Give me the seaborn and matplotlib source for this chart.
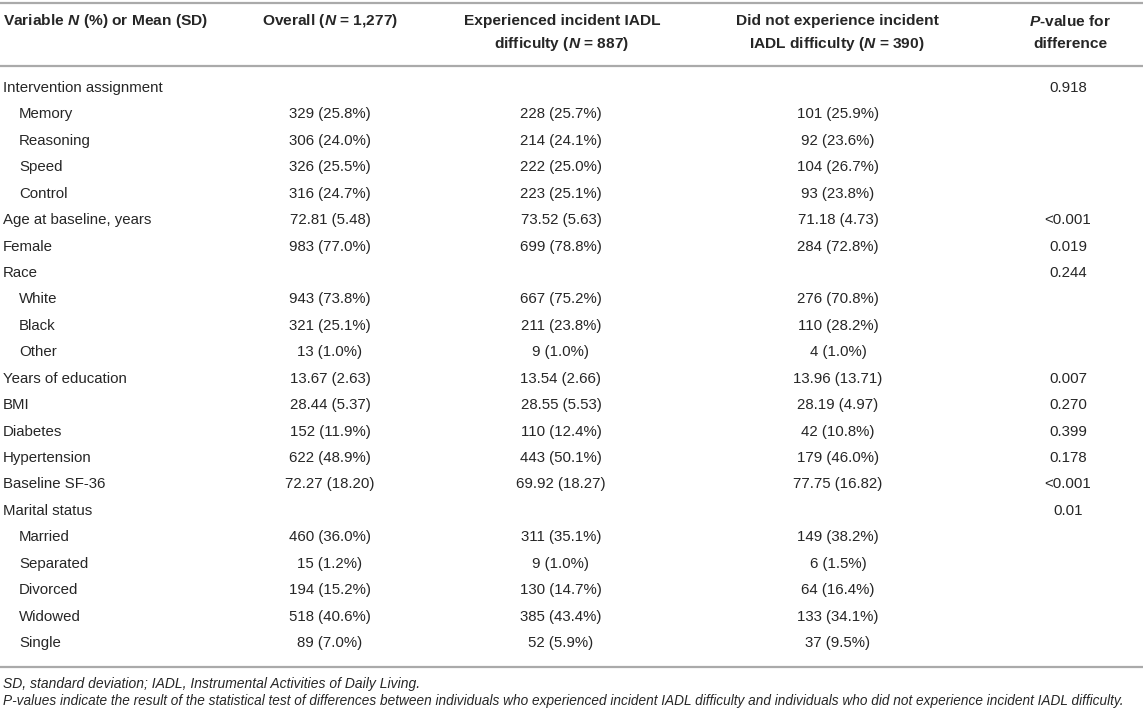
import seaborn as sns
import matplotlib.pyplot as plt

# Table contents
col_headers = [
    ["Variable $N$ (%) or Mean (SD)"],
    ["Overall ($N$ = 1,277)"],
    ["Experienced incident IADL", "difficulty ($N$ = 887)"],
    ["Did not experience incident", "IADL difficulty ($N$ = 390)"],
    ["$P$-value for", "difference"],
]

variables = [
    "Intervention assignment", "Memory", "Reasoning", "Speed", "Control",
    "Age at baseline, years", "Female", "Race", "White", "Black", "Other",
    "Years of education", "BMI", "Diabetes", "Hypertension", "Baseline SF-36",
    "Marital status", "Married", "Separated", "Divorced", "Widowed", "Single",
]
is_sub = [False, True, True, True, True,
          False, False, False, True, True, True,
          False, False, False, False, False,
          False, True, True, True, True, True]

overall = ["", "329 (25.8%)", "306 (24.0%)", "326 (25.5%)", "316 (24.7%)",
           "72.81 (5.48)", "983 (77.0%)", "", "943 (73.8%)", "321 (25.1%)", "13 (1.0%)",
           "13.67 (2.63)", "28.44 (5.37)", "152 (11.9%)", "622 (48.9%)", "72.27 (18.20)",
           "", "460 (36.0%)", "15 (1.2%)", "194 (15.2%)", "518 (40.6%)", "89 (7.0%)"]
experienced = ["", "228 (25.7%)", "214 (24.1%)", "222 (25.0%)", "223 (25.1%)",
               "73.52 (5.63)", "699 (78.8%)", "", "667 (75.2%)", "211 (23.8%)", "9 (1.0%)",
               "13.54 (2.66)", "28.55 (5.53)", "110 (12.4%)", "443 (50.1%)", "69.92 (18.27)",
               "", "311 (35.1%)", "9 (1.0%)", "130 (14.7%)", "385 (43.4%)", "52 (5.9%)"]
not_experienced = ["", "101 (25.9%)", "92 (23.6%)", "104 (26.7%)", "93 (23.8%)",
                   "71.18 (4.73)", "284 (72.8%)", "", "276 (70.8%)", "110 (28.2%)", "4 (1.0%)",
                   "13.96 (13.71)", "28.19 (4.97)", "42 (10.8%)", "179 (46.0%)", "77.75 (16.82)",
                   "", "149 (38.2%)", "6 (1.5%)", "64 (16.4%)", "133 (34.1%)", "37 (9.5%)"]
p_values = ["0.918", "", "", "", "",
            "<0.001", "0.019", "0.244", "", "", "",
            "0.007", "0.270", "0.399", "0.178", "<0.001",
            "0.01", "", "", "", "", ""]

footnotes = [
    "SD, standard deviation; IADL, Instrumental Activities of Daily Living.",
    "P-values indicate the result of the statistical test of differences between individuals "
    "who experienced incident IADL difficulty and individuals who did not experience incident IADL difficulty.",
]

sns.set_theme(style="white")
plt.rcParams["font.family"] = ["Liberation Sans", "DejaVu Sans"]
plt.rcParams["mathtext.fontset"] = "custom"
plt.rcParams["mathtext.it"] = "Liberation Sans:italic:bold"
plt.rcParams["mathtext.rm"] = "Liberation Sans:bold"

W, H = 1143, 711
fig = plt.figure(figsize=(W / 100, H / 100), dpi=100)
ax = fig.add_axes([0, 0, 1, 1])
ax.set_xlim(0, W)
ax.set_ylim(H, 0)
ax.axis("off")

txt = "#262626"
line_col = "#aaaaaa"

# header
head_x = [3, 330, 562, 837, 1070]
for j, lines in enumerate(col_headers):
    for k, s in enumerate(lines):
        ax.text(head_x[j], 21 + k * 23, s, ha="left" if j == 0 else "center",
                va="center", fontsize=11.15, fontweight="bold", color=txt)

for y in (3, 66, 667):
    ax.plot([0, W], [y, y], color=line_col, lw=1.6, solid_capstyle="butt")

# body
col_x = [330, 561, 838, 1068]
row0, step = 88, 26.43
for i, name in enumerate(variables):
    y = row0 + i * step
    ax.text(19 if is_sub[i] else 3, y, name, ha="left", va="center", fontsize=10.8, color=txt)
    for x, col in zip(col_x, [overall, experienced, not_experienced, p_values]):
        if col[i]:
            ax.text(x, y, col[i], ha="center", va="center", fontsize=10.8, color=txt)

# footnotes
for k, s in enumerate(footnotes):
    ax.text(3, 684 + k * 17, s, ha="left", va="center", fontsize=9.85 if k else 9.97,
            style="italic", color=txt)

fig.savefig("out.png", dpi=100)
